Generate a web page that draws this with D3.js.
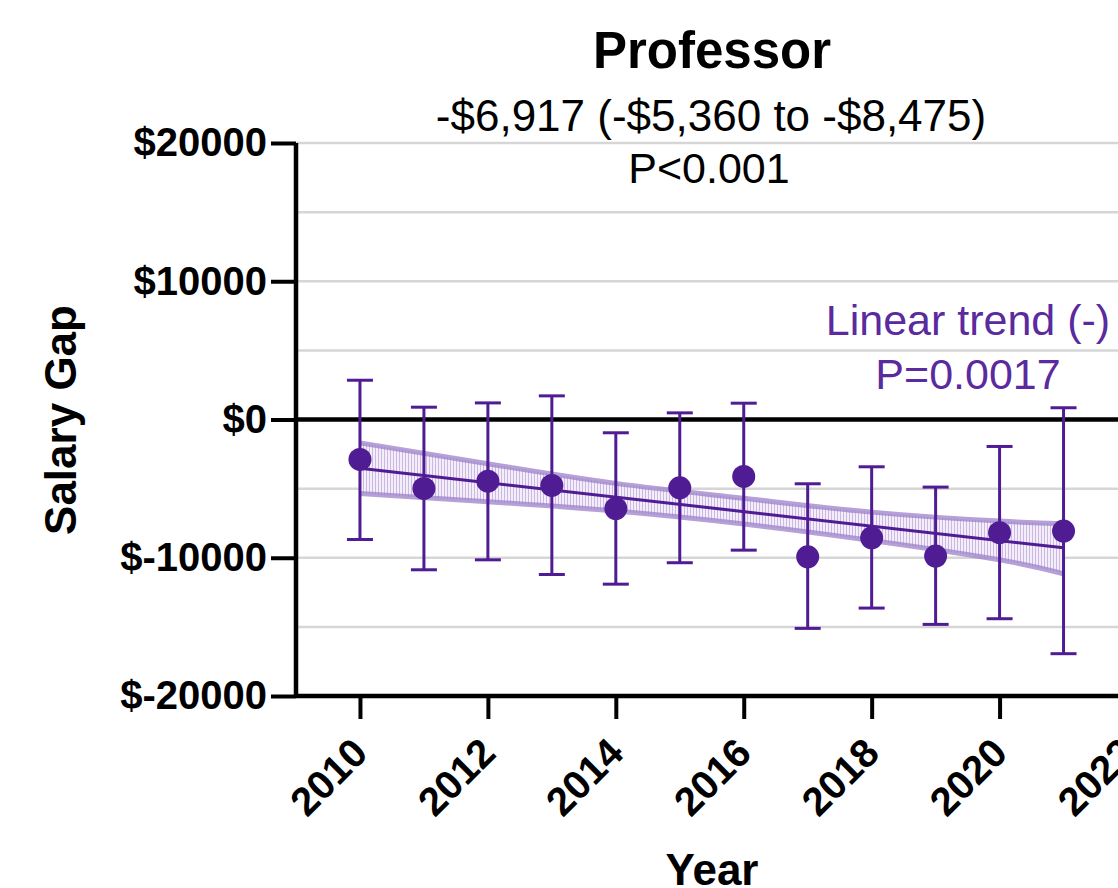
<!DOCTYPE html>
<html>
<head>
<meta charset="utf-8">
<script src="https://cdn.jsdelivr.net/npm/d3@7"></script>
<style>
  body { margin: 0; background: #fff; }
  svg { display: block; font-family: "Liberation Sans", Arial, sans-serif; }
</style>
</head>
<body>
<div id="chart"></div>
<script>
// yearly salary gap, mean and 95% CI
const years = [2010, 2011, 2012, 2013, 2014, 2015, 2016, 2017, 2018, 2019, 2020, 2021];
const gapMean = [-2890, -4990, -4460, -4770, -6440, -4940, -4120, -9930, -8560, -9880, -8190, -8070];
const gapHigh = [2840, 890, 1200, 1710, -960, 480, 1180, -4650, -3420, -4890, -1950, 850];
const gapLow = [-8680, -10870, -10150, -11210, -11910, -10360, -9450, -15110, -13640, -14820, -14410, -16940];

// fitted linear trend and its confidence band
const trendYears = [2010, 2021];
const trendValues = [-3520, -9280];
const bandYears = [2010, 2012, 2014, 2016, 2018, 2020, 2021];
const bandUpper = [-1690, -3200, -4620, -5700, -6700, -7350, -7540];
const bandLower = [-5350, -5950, -6620, -7560, -8750, -10150, -11160];

const yTicks = [20000, 10000, 0, -10000, -20000];
const yGrid = [20000, 15000, 10000, 5000, -5000, -10000, -15000];
const xTicks = [2010, 2012, 2014, 2016, 2018, 2020, 2022];

const W = 1118, H = 888;
const purple = "#4f1c93";

const svg = d3.select("#chart").append("svg")
  .attr("width", W).attr("height", H);

const x = d3.scaleLinear().domain([2009, 2022]).range([296, 1127.5]);
const y = d3.scaleLinear().domain([-20000, 20000]).range([696, 143]);

const defs = svg.append("defs");
const pat = defs.append("pattern")
  .attr("id", "hatch").attr("patternUnits", "userSpaceOnUse")
  .attr("width", 3).attr("height", 10);
pat.append("rect").attr("width", 3).attr("height", 10).attr("fill", "#f3eef9");
pat.append("line").attr("x1", 0.5).attr("x2", 0.5).attr("y1", 0).attr("y2", 10)
  .attr("stroke", "#cbb9e3").attr("stroke-width", 1);

// grid
svg.append("g").selectAll("line").data(yGrid).join("line")
  .attr("x1", x(2009)).attr("x2", W)
  .attr("y1", d => y(d)).attr("y2", d => y(d))
  .attr("stroke", "#d6d6d6").attr("stroke-width", 2.5);

// confidence band
const band = bandYears.map((d, i) => ({yr: d, hi: bandUpper[i], lo: bandLower[i]}));
svg.append("path").datum(band)
  .attr("d", d3.area().x(d => x(d.yr)).y0(d => y(d.lo)).y1(d => y(d.hi)).curve(d3.curveNatural))
  .attr("fill", "url(#hatch)");
["hi", "lo"].forEach(k => {
  svg.append("path").datum(band)
    .attr("d", d3.line().x(d => x(d.yr)).y(d => y(d[k])).curve(d3.curveNatural))
    .attr("fill", "none").attr("stroke", "#9c80c9").attr("stroke-opacity", 0.75)
    .attr("stroke-width", 5);
});

// zero line
svg.append("line")
  .attr("x1", x(2009)).attr("x2", W).attr("y1", y(0)).attr("y2", y(0))
  .attr("stroke", "#000").attr("stroke-width", 4.5);

// trend line
svg.append("path").datum(trendYears.map((d, i) => [d, trendValues[i]]))
  .attr("d", d3.line().x(d => x(d[0])).y(d => y(d[1])))
  .attr("stroke", purple).attr("stroke-width", 3).attr("fill", "none");

// error bars + points
const pts = years.map((d, i) => ({yr: d, m: gapMean[i], hi: gapHigh[i], lo: gapLow[i]}));
const eb = svg.append("g").attr("stroke", purple).attr("stroke-width", 3);
eb.selectAll(".v").data(pts).join("line")
  .attr("x1", d => x(d.yr)).attr("x2", d => x(d.yr))
  .attr("y1", d => y(d.hi)).attr("y2", d => y(d.lo));
eb.selectAll(".t").data(pts).join("line")
  .attr("x1", d => x(d.yr) - 13).attr("x2", d => x(d.yr) + 13)
  .attr("y1", d => y(d.hi)).attr("y2", d => y(d.hi));
eb.selectAll(".b").data(pts).join("line")
  .attr("x1", d => x(d.yr) - 13).attr("x2", d => x(d.yr) + 13)
  .attr("y1", d => y(d.lo)).attr("y2", d => y(d.lo));
svg.append("g").selectAll("circle").data(pts).join("circle")
  .attr("cx", d => x(d.yr)).attr("cy", d => y(d.m)).attr("r", 11.5)
  .attr("fill", purple);

// axes
const yAxis = svg.append("g").attr("transform", `translate(${x(2009)},0)`)
  .call(d3.axisLeft(y).tickValues(yTicks).tickSize(25).tickPadding(4)
    .tickFormat(d => "$" + d));
const xAxis = svg.append("g").attr("transform", `translate(0,${y(-20000)})`)
  .call(d3.axisBottom(x).tickValues(xTicks).tickSize(23).tickFormat(d3.format("d")));
[yAxis, xAxis].forEach(a => {
  a.select(".domain").attr("stroke", "#000").attr("stroke-width", 4.5);
  a.selectAll(".tick line").attr("stroke", "#000").attr("stroke-width", 4);
  a.selectAll("text").attr("fill", "#000").attr("font-weight", "bold")
    .attr("font-size", 40).attr("font-family", "Liberation Sans, Arial, sans-serif");
});
yAxis.select(".domain").attr("d", `M0,${y(20000)}V${y(-20000)}`);
xAxis.select(".domain").attr("d", `M${x(2009)},0H${W}`);
xAxis.selectAll(".tick text")
  .attr("text-anchor", "end")
  .attr("transform", "translate(-11,39) rotate(-45)")
  .attr("y", 0).attr("dy", "0.72em");

// titles
const txt = (s, tx, ty, size, weight, fill) => svg.append("text")
  .attr("x", tx).attr("y", ty).attr("text-anchor", "middle")
  .attr("font-size", size).attr("font-weight", weight).attr("fill", fill).text(s);

txt("Professor", 712, 68, 51, "bold", "#000");
txt("-$6,917 (-$5,360 to -$8,475)", 711, 131, 44, "normal", "#000");
txt("P<0.001", 709, 183, 43, "normal", "#000");
txt("Linear trend (-)", 968, 335, 43, "normal", "#5a2a9e");
txt("P=0.0017", 968, 389, 43, "normal", "#5a2a9e");
txt("Year", 712, 885, 44, "bold", "#000");

svg.append("text")
  .attr("transform", "translate(76,420) rotate(-90)")
  .attr("text-anchor", "middle").attr("font-size", 44).attr("font-weight", "bold")
  .text("Salary Gap");
</script>
</body>
</html>
